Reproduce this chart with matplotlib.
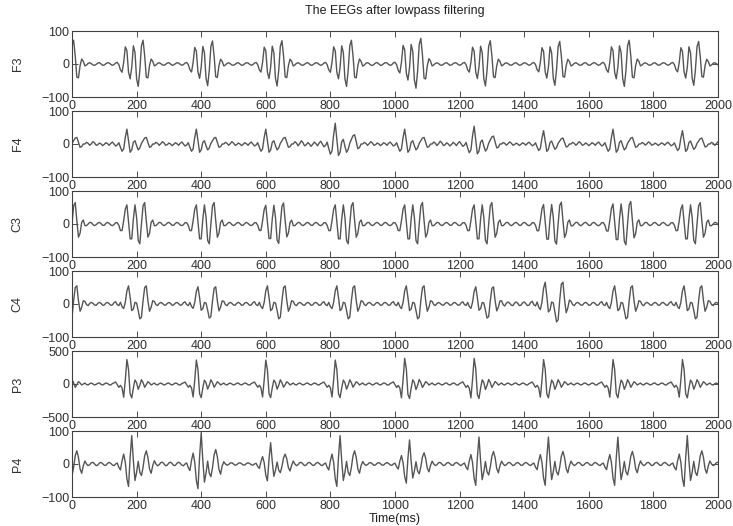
import numpy as np
import matplotlib.pyplot as plt

plt.rcParams["font.family"] = ["Liberation Sans", "DejaVu Sans"]
plt.rcParams["font.size"] = 9

# one burst cycle per channel, every 5 ms (t = 40 ... 250 ms)
period = 215
step = 5
first_t = 40 - period

channels = ["F3", "F4", "C3", "C4", "P3", "P4"]

f3_wave = [-6, -3, 2, 4, 1, -3, -4, -1, 3, 4,
           0, -4, -3, 1, 4, 3, -1, -4, -2, 3,
           5, -2, -18, -25, 5, 52, 40, -25, -45, -10,
           55, 35, -45, -68, -20, 55, 72, 25, -40, -42,
           -5, 15, 8]
f4_wave = [0, 5, 2, -4, 1, 7, 3, -4, -2, 3,
           0, -5, -1, 4, 1, -4, 2, 6, 0, -6,
           -3, 4, -10, -22, -15, 20, 45, 10, -25, -18,
           5, 10, -5, -18, -12, 2, 10, 18, 20, 5,
           -10, -8, 0]
c3_wave = [-5, -5, 0, 5, 4, -2, -5, -2, 3, 5,
           1, -4, -4, 2, 5, 2, -3, -5, -2, 4,
           4, -4, -20, -20, 10, 45, 58, 5, -45, -45,
           15, 58, 20, -50, -60, 0, 55, 65, 10, -40,
           -28, 5, 12]
c4_wave = [8, -2, -5, 2, 5, 2, -3, -4, 2, 5,
           2, -4, -3, 3, 5, 1, -4, -3, 4, 7,
           -2, -5, 5, -8, -14, 5, 40, 55, 20, -20,
           -15, 5, 3, -20, -45, -40, 10, 50, 55, 10,
           -22, -10, 10]
p3_wave = [15, -8, -15, 5, 15, 0, -15, -6, 12, 15,
           -6, -15, 0, 15, 9, -12, -15, 6, 18, 30,
           -10, -50, -20, -60, -200, 60, 370, 220, -150, -210,
           -60, 60, 20, -80, -20, 65, 20, -50, -10, 35,
           15, -15, 0]
p4_wave = [9, 0, -5, -2, 4, 5, 0, -5, -3, 3,
           5, 1, -4, -4, 2, 5, 2, -3, -5, 0,
           3, -10, -18, 10, 30, 5, -45, -68, 20, 86,
           10, -50, -25, 8, -25, -35, -10, 25, 40, 20,
           -15, -28, -5]

# amplitude of each burst cycle
f3_gain = [1.0, 1.0, 0.97, 0.98, 1.0, 1.08, 0.98, 0.95, 1.0, 0.95, 1.0]
f4_gain = [1.0, 1.0, 1.0, 1.0, 1.4, 1.0, 1.2, 0.9, 1.0, 0.9, 1.0]
c3_gain = [1.0, 1.0, 1.0, 0.98, 1.0, 1.0, 1.0, 1.02, 1.05, 1.0, 1.0]
c4_gain = [1.0, 1.0, 0.95, 1.0, 1.0, 1.0, 0.95, 1.2, 1.0, 1.0, 1.0]
p3_gain = [1.0, 1.0, 0.98, 0.98, 0.98, 1.05, 1.05, 1.0, 1.0, 1.0, 1.0]
p4_gain = [1.0, 1.0, 1.1, 0.75, 1.0, 0.85, 0.95, 0.95, 0.95, 1.0, 1.0]

waves = [f3_wave, f4_wave, c3_wave, c4_wave, p3_wave, p4_wave]
gains = [f3_gain, f4_gain, c3_gain, c4_gain, p3_gain, p4_gain]
ylims = [100, 100, 100, 100, 500, 100]

W, H = 733, 526
fig = plt.figure(figsize=(W / 100, H / 100), dpi=100)

left, right = 72, 718
ax_h = 66
tops = [31, 111, 191, 271, 351, 431]

for name, wave, gain, lim, top in zip(channels, waves, gains, ylims, tops):
    y = np.concatenate([g * np.array(wave, dtype=float) for g in gain])
    t = first_t + step * np.arange(len(y))
    ax = fig.add_axes([left / W, (H - top - ax_h) / H, (right - left) / W, ax_h / H])
    ax.plot(t, y, color="#555555", lw=1.0)
    ax.set_xlim(0, 2000)
    ax.set_ylim(-lim, lim)
    ax.set_xticks(range(0, 2001, 200))
    ax.set_yticks([-lim, 0, lim])
    ax.tick_params(direction="in", length=4, width=0.6, top=True, right=True,
                   colors="#303030", labelsize=9, pad=2)
    for s in ax.spines.values():
        s.set_color("#404040")
        s.set_linewidth(0.8)
    ax.set_ylabel(name, fontsize=9, color="#303030")
    ax.yaxis.set_label_coords(-0.075, 0.5)

fig.text((left + right) / 2 / W, 1 - 11 / H, "The EEGs after lowpass filtering",
         ha="center", va="center", fontsize=9, color="#202020")
fig.text((left + right) / 2 / W, 1 - 519 / H, "Time(ms)",
         ha="center", va="center", fontsize=9, color="#202020")

fig.savefig("out.png", dpi=100, facecolor="white")
